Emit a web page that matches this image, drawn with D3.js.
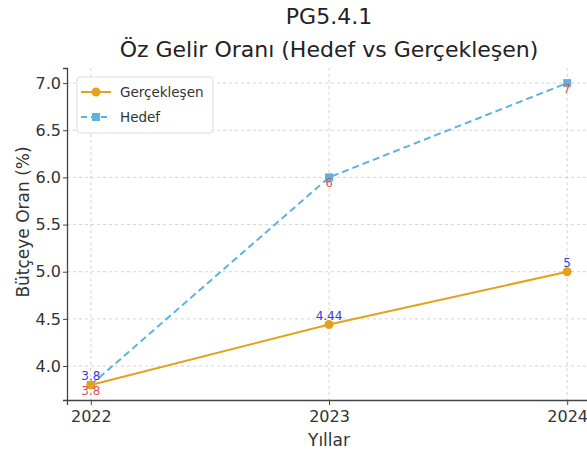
<!DOCTYPE html>
<html>
<head>
<meta charset="utf-8">
<script src="https://cdn.jsdelivr.net/npm/d3@7"></script>
<style>
  body { margin: 0; background: #fff; }
  text { font-family: "DejaVu Sans", sans-serif; }
</style>
</head>
<body>
<div id="chart"></div>
<script>
const years = [2022, 2023, 2024]
const gerceklesen = [3.8, 4.44, 5]
const hedef = [3.8, 6, 7]
const yTicks = [4.0, 4.5, 5.0, 5.5, 6.0, 6.5, 7.0]
const seriesNames = ['Gerçekleşen', 'Hedef']

const w = 587, h = 454
const margin = { left: 67, right: -4, top: 68, bottom: 54 }
const width = w - margin.left - margin.right
const height = h - margin.top - margin.bottom

const orange = '#e6a11c'
const blue = '#5cb3e2'

const x = d3.scaleLinear()
  .domain([2021.9, 2024.1])
  .range([0, width])

const y = d3.scaleLinear()
  .domain([3.64, 7.16])
  .range([height, 0])

const svg = d3.select('#chart').append('svg')
  .attr('width', w)
  .attr('height', h)

svg.append('text')
  .attr('x', margin.left + width / 2)
  .attr('y', 24)
  .attr('text-anchor', 'middle')
  .style('font-size', '22px')
  .style('fill', '#222')
  .text('PG5.4.1')

svg.append('text')
  .attr('x', margin.left + width / 2)
  .attr('y', 57)
  .attr('text-anchor', 'middle')
  .style('font-size', '22px')
  .style('fill', '#222')
  .text('Öz Gelir Oranı (Hedef vs Gerçekleşen)')

const chart = svg.append('g')
  .attr('transform', 'translate(' + margin.left + ',' + margin.top + ')')

// grid
const grid = chart.append('g').attr('class', 'grid')
grid.selectAll('line.h')
  .data(yTicks)
  .enter().append('line')
  .attr('x1', 0).attr('x2', width)
  .attr('y1', d => y(d)).attr('y2', d => y(d))
  .style('stroke', '#d4d4d4')
  .style('stroke-dasharray', '3,3')
grid.selectAll('line.v')
  .data(years)
  .enter().append('line')
  .attr('x1', d => x(d)).attr('x2', d => x(d))
  .attr('y1', 0).attr('y2', height)
  .style('stroke', '#d4d4d4')
  .style('stroke-dasharray', '3,3')

// axes
const xAxis = chart.append('g')
  .attr('transform', 'translate(0,' + height + ')')
  .call(d3.axisBottom(x).tickValues(years).tickFormat(d3.format('d')).tickSizeOuter(0).tickSize(5))
const yAxis = chart.append('g')
  .call(d3.axisLeft(y).tickValues(yTicks).tickFormat(d3.format('.1f')).tickSizeOuter(0).tickSize(4).tickPadding(2))

;[xAxis, yAxis].forEach(a => {
  a.select('.domain').style('stroke', '#444').style('stroke-width', 1.3)
  a.selectAll('.tick line').style('stroke', '#444')
  a.selectAll('.tick text')
    .style('font-size', '16px')
    .style('fill', '#333')
    .style('font-family', '"DejaVu Sans", sans-serif')
})
xAxis.selectAll('.tick text').attr('dy', '0.9em')

svg.append('text')
  .attr('x', margin.left + 262)
  .attr('y', 446)
  .attr('text-anchor', 'middle')
  .style('font-size', '17px')
  .style('fill', '#333')
  .text('Yıllar')

svg.append('text')
  .attr('transform', 'translate(29,222) rotate(-90)')
  .attr('text-anchor', 'middle')
  .style('font-size', '17px')
  .style('fill', '#333')
  .text('Bütçeye Oran (%)')

const line = d3.line()
  .x(d => x(d[0]))
  .y(d => y(d[1]))

const gData = years.map((yr, i) => [yr, gerceklesen[i]])
const hData = years.map((yr, i) => [yr, hedef[i]])

chart.append('path')
  .datum(hData)
  .attr('d', line)
  .style('fill', 'none')
  .style('stroke', blue)
  .style('stroke-width', 2)
  .style('stroke-dasharray', '7,4')

chart.append('path')
  .datum(gData)
  .attr('d', line)
  .style('fill', 'none')
  .style('stroke', orange)
  .style('stroke-width', 2)

chart.selectAll('rect.hm')
  .data(hData)
  .enter().append('rect')
  .attr('x', d => x(d[0]) - 4)
  .attr('y', d => y(d[1]) - 4)
  .attr('width', 8)
  .attr('height', 8)
  .style('fill', blue)

chart.selectAll('circle.gm')
  .data(gData)
  .enter().append('circle')
  .attr('cx', d => x(d[0]))
  .attr('cy', d => y(d[1]))
  .attr('r', 4.5)
  .style('fill', orange)

// value labels
chart.selectAll('text.gl')
  .data(gData)
  .enter().append('text')
  .attr('x', d => x(d[0]))
  .attr('y', d => y(d[1]) - 5)
  .attr('text-anchor', 'middle')
  .style('font-size', '12px')
  .style('fill', '#3b3bd6')
  .text(d => d[1])

chart.selectAll('text.hl')
  .data(hData)
  .enter().append('text')
  .attr('x', d => x(d[0]))
  .attr('y', d => y(d[1]) + 10)
  .attr('text-anchor', 'middle')
  .style('font-size', '12px')
  .style('fill', '#e0505a')
  .text(d => d[1])

// legend
const legend = chart.append('g')
  .attr('transform', 'translate(10,9)')
legend.append('rect')
  .attr('width', 136)
  .attr('height', 56)
  .attr('rx', 3)
  .style('fill', 'rgba(255,255,255,0.85)')
  .style('stroke', '#dcdcdc')

const legendItems = legend.selectAll('g.item')
  .data(seriesNames)
  .enter().append('g')
  .attr('transform', (d, i) => 'translate(0,' + (15 + i * 25) + ')')

legendItems.append('line')
  .attr('x1', 4).attr('x2', 34)
  .style('stroke', (d, i) => i === 0 ? orange : blue)
  .style('stroke-width', 2)
  .style('stroke-dasharray', (d, i) => i === 0 ? null : '6,4')
legendItems.filter((d, i) => i === 0).append('circle')
  .attr('cx', 19).attr('r', 4.5).style('fill', orange)
legendItems.filter((d, i) => i === 1).append('rect')
  .attr('x', 15).attr('y', -4).attr('width', 8).attr('height', 8).style('fill', blue)
legendItems.append('text')
  .attr('x', 43)
  .attr('dy', '0.35em')
  .style('font-size', '13.5px')
  .style('fill', '#333')
  .text(d => d)
</script>
</body>
</html>
